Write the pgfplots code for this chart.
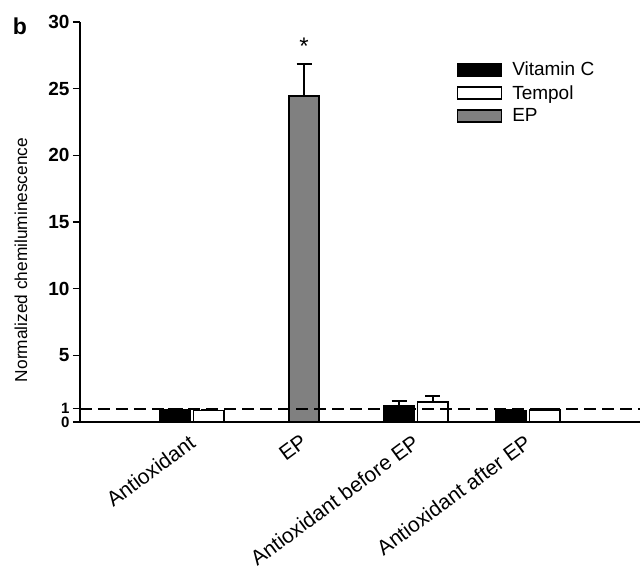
\documentclass[border=0pt]{standalone}
\usepackage{pgfplots}
\pgfplotsset{compat=1.18}
\usepackage{fontspec}
\setmainfont{Liberation Sans}
\definecolor{epgray}{RGB}{128,128,128}
\newcommand{\fs}[1]{\fontsize{#1bp}{#1bp}\selectfont}
\pgfplotsset{mylegend/.style={legend image code/.code={\draw[##1, line width=1.5bp] (0bp,-6bp) rectangle (44bp,6bp); \path[draw=none, fill=none] (0bp,0bp) -- (53bp,0bp);}}}
\begin{document}
\begin{tikzpicture}
\useasboundingbox (-80bp,-144bp) rectangle (563bp,422bp);
\begin{axis}[
 scale only axis, width=560bp, height=400bp,
 xmin=0, xmax=5, ymin=0, ymax=30,
 axis x line=bottom, axis y line=left,
 axis line style={-, line width=2.2bp},
 axis on top,
 xtick={1,2,3,4},
 xticklabels={Antioxidant, EP, Antioxidant before EP, Antioxidant after EP},
 x tick style={draw=none},
 xticklabel style={rotate=36.5, anchor=north east, font=\fs{21}, inner sep=1bp, yshift=0bp, xshift=-5bp},
 ytick={5,10,15,20,25,30},
 extra y ticks={0,1},
 extra y tick style={yticklabel style={font=\fs{15}\bfseries}},
 tick align=outside, major tick length=7bp,
 y tick style={line width=1.5bp, black},
 yticklabel style={font=\fs{19}\bfseries},
 /pgf/number format/assume math mode=true,
 legend style={draw=none, fill=none, at={(0.672,0.905)}, anchor=north west, font=\fs{19}, row sep=4bp, inner sep=0pt},
 legend cell align=left,
]
\addplot[ybar, bar width=0.27, bar shift=0pt, fill=black, draw=black, line width=1.5bp, mylegend,
  error bars/.cd, y dir=plus, y explicit, error bar style={line width=1.8bp, black}, error mark options={rotate=90, mark size=7.5bp, line width=1.8bp, black}]
 table[x=x, y=y, y error=e] {
x y e
0.85 0.93 0.04
2.85 1.25 0.30
3.85 0.85 0.08
};
\addlegendentry{Vitamin C}
\addplot[ybar, bar width=0.27, bar shift=0pt, fill=white, draw=black, line width=1.5bp, mylegend,
  error bars/.cd, y dir=plus, y explicit, error bar style={line width=1.8bp, black}, error mark options={rotate=90, mark size=7.5bp, line width=1.8bp, black}]
 table[x=x, y=y, y error=e] {
x y e
1.15 0.85 0.05
3.15 1.50 0.45
4.15 0.90 0.07
};
\addlegendentry{Tempol}
\addplot[ybar, bar width=0.27, bar shift=0pt, fill=epgray, draw=black, line width=1.5bp, mylegend,
  error bars/.cd, y dir=plus, y explicit, error bar style={line width=1.8bp, black}, error mark options={rotate=90, mark size=7.5bp, line width=1.8bp, black}]
 table[x=x, y=y, y error=e] {
x y e
2.0 24.44 2.40
};
\addlegendentry{EP}
\addplot[forget plot, black, line width=1.8bp, dash pattern=on 12bp off 6bp] coordinates {(0,1) (5,1)};
\node[font=\fs{24}] at (axis cs:2,28.2) {*};
\end{axis}
\node[font=\fs{23}\bfseries] at (-60bp,396bp) {b};
\node[rotate=90, font=\fs{17.3}] at (-59bp,162bp) {Normalized chemiluminescence};
\end{tikzpicture}
\end{document}
